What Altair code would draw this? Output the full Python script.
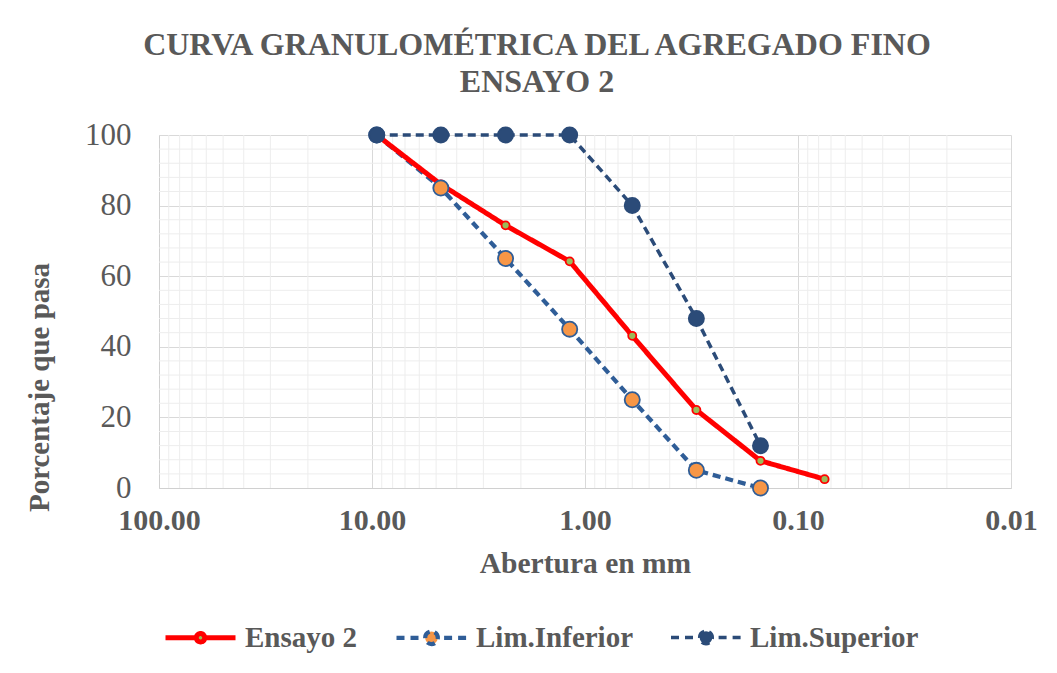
import altair as alt
import pandas as pd

# ---- data ----
sizes = [9.5, 4.75, 2.36, 1.18, 0.60, 0.30, 0.15, 0.075]
ensayo = [100, 86, 74.4, 64.2, 43.1, 22.1, 7.7, 2.5]
lim_inf = [100, 85, 65, 45, 25, 5, 0]
lim_sup = [100, 100, 100, 100, 80, 48, 12]
series_names = ["Ensayo 2", "Lim.Inferior", "Lim.Superior"]
x_major = [100, 10, 1, 0.1, 0.01]
x_minor = [m * d for d in [10, 1, 0.1, 0.01] for m in range(2, 10)]
y_major = [0, 20, 40, 60, 80, 100]
y_minor = [v for v in range(4, 100, 4) if v % 20 != 0]

rows = []
for s, v in zip(sizes, lim_inf):
    rows.append({"series": "Lim.Inferior", "abertura": s, "pasa": v})
for s, v in zip(sizes, lim_sup):
    rows.append({"series": "Lim.Superior", "abertura": s, "pasa": v})
for s, v in zip(sizes, ensayo):
    rows.append({"series": "Ensayo 2", "abertura": s, "pasa": v})
df = pd.DataFrame(rows)

FONT = "Liberation Serif"
TXT = "#595959"
W, H = 852, 353

xscale = alt.Scale(type="log", domain=[0.01, 100], reverse=True, nice=False)
yscale = alt.Scale(domain=[0, 100], nice=False)

xaxis = alt.Axis(values=x_major, format=".2f", grid=True, gridColor="#D9D9D9",
                 ticks=False, domainColor="#D0D0D0", labelFont=FONT, labelFontSize=30,
                 labelFontWeight="bold", labelColor=TXT, labelPadding=17,
                 labelFlush=False, labelOverlap=False,
                 title="Abertura en mm", titleFont=FONT, titleFontSize=29.5,
                 titleFontWeight="bold", titleColor=TXT, titlePadding=14)
yaxis = alt.Axis(values=y_major, grid=True, gridColor="#D9D9D9", ticks=False,
                 domainColor="#D0D0D0", labelFont=FONT, labelFontSize=31,
                 labelColor=TXT, labelPadding=28,
                 title="Porcentaje que pasa", titleFont=FONT, titleFontSize=29,
                 titleFontWeight="bold", titleColor=TXT, titleX=-120, titleY=252,
                 titleAngle=270, titleBaseline="middle", titleAlign="center")

X = alt.X("abertura:Q", scale=xscale, axis=xaxis)
Y = alt.Y("pasa:Q", scale=yscale, axis=yaxis)

legend = alt.Legend(
    title=None, orient="none", legendX=4, legendY=465, direction="horizontal",
    symbolSize=4900, symbolStrokeWidth=2.6, labelFont=FONT, labelFontSize=29,
    labelFontWeight="bold", labelColor=TXT, labelOffset=7, columnPadding=30,
    symbolOpacity=1, labelLimit=400,
)

# legend glyphs: line + marker (solid for the test, dashed for the limits)
solid_glyph = ("M-1,0L-0.12,0M0.12,0L1,0"
               "M-0.12,0A0.12,0.12,0,1,1,0.12,0A0.12,0.12,0,1,1,-0.12,0Z")
dashed_glyph = ("M-1,0L-0.76,0M-0.6,0L-0.36,0M0.36,0L0.6,0M0.76,0L1,0"
                "M-0.18,0A0.18,0.18,0,1,1,0.18,0A0.18,0.18,0,1,1,-0.18,0Z")

color_scale = alt.Scale(domain=series_names, range=["#FF0000", "#2F5D97", "#2B4B78"])
fill_scale = alt.Scale(domain=series_names, range=["#9BBB59", "#F79646", "#2B4B78"])
dash_scale = alt.Scale(domain=series_names, range=[[1, 0], [8, 5], [8, 5]])
width_scale = alt.Scale(domain=series_names, range=[5, 3.5, 3.5])
shape_scale = alt.Scale(domain=series_names, range=[solid_glyph, dashed_glyph, dashed_glyph])

minor_x = alt.Chart(pd.DataFrame({"abertura": x_minor})).mark_rule(
    color="#EDEDED", strokeWidth=1).encode(x=X)
minor_y = alt.Chart(pd.DataFrame({"pasa": y_minor})).mark_rule(
    color="#EDEDED", strokeWidth=1).encode(y=Y)

lines = alt.Chart(df).mark_line().encode(
    x=X, y=Y,
    color=alt.Color("series:N", scale=color_scale, legend=legend),
    strokeDash=alt.StrokeDash("series:N", scale=dash_scale, legend=None),
    strokeWidth=alt.StrokeWidth("series:N", scale=width_scale, legend=None),
)

pts_ens = alt.Chart(df).transform_filter(alt.datum.series == "Ensayo 2").mark_point(
    filled=False, opacity=1, fillOpacity=1, strokeWidth=1.8, size=65).encode(
    x=X, y=Y,
    color=alt.Color("series:N", scale=color_scale, legend=legend),
    fill=alt.Fill("series:N", scale=fill_scale, legend=legend),
)

pts_lim = alt.Chart(df).transform_filter(alt.datum.series != "Ensayo 2").mark_point(
    filled=False, opacity=1, fillOpacity=1, strokeWidth=1.8, size=230).encode(
    x=X, y=Y,
    color=alt.Color("series:N", scale=color_scale, legend=legend),
    fill=alt.Fill("series:N", scale=fill_scale, legend=legend),
)

# empty layer whose only job is to give the legend its line+marker glyphs
legend_layer = alt.Chart(df).transform_filter("false").mark_point(
    filled=False, opacity=1, fillOpacity=1).encode(
    x=X, y=Y,
    color=alt.Color("series:N", scale=color_scale, legend=legend),
    fill=alt.Fill("series:N", scale=fill_scale, legend=legend),
    shape=alt.Shape("series:N", scale=shape_scale, legend=legend),
)

chart = alt.layer(minor_x, minor_y, lines, pts_ens, pts_lim, legend_layer).properties(
    width=W, height=H,
    title=alt.Title(["CURVA GRANULOMÉTRICA DEL AGREGADO FINO", "ENSAYO 2"],
                    font=FONT, fontSize=32, fontWeight="bold", color=TXT,
                    anchor="middle", frame="group", dx=-48, lineHeight=37, offset=20),
    padding={"left": 151, "top": 127, "right": 30, "bottom": 175},
    autosize=alt.AutoSizeParams(type="none"),
).configure_view(stroke="transparent")

chart.save("out.html", embed_options={"renderer": "svg", "actions": False})
